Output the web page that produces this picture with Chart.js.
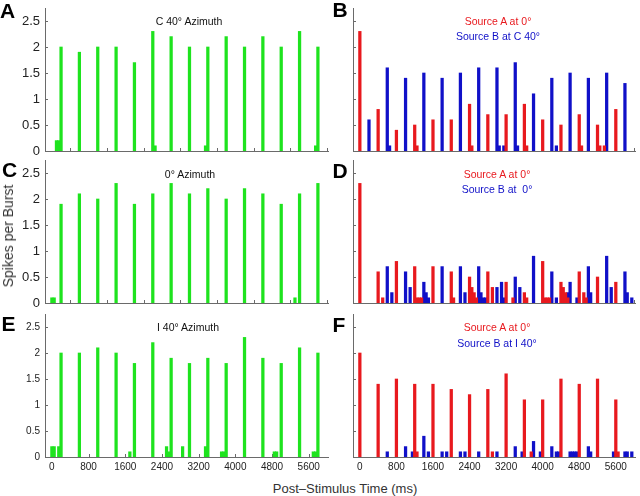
<!DOCTYPE html>
<html>
<head>
<meta charset="utf-8">
<script src="https://cdn.jsdelivr.net/npm/chart.js@4.4.1/dist/chart.umd.min.js"></script>
<style>
body{margin:0;background:#fff;width:640px;height:496px;position:relative;overflow:hidden;font-family:"Liberation Sans",Arial,sans-serif}
canvas{position:absolute}
.t{position:absolute;white-space:nowrap;transform:translate(-50%,-50%);font-size:10.5px;color:#111}
.L{font-weight:bold;font-size:21px;color:#000}
.red{color:#e8191e}
.blue{color:#1010c8}
</style>
</head>
<body>
<canvas id="cA" width="334" height="179" style="left:0;top:-6px"></canvas>
<canvas id="cB" width="332" height="179" style="left:308px;top:-6px"></canvas>
<canvas id="cC" width="334" height="179" style="left:0;top:146px"></canvas>
<canvas id="cD" width="332" height="179" style="left:308px;top:146px"></canvas>
<canvas id="cE" width="334" height="179" style="left:0;top:300px"></canvas>
<canvas id="cF" width="332" height="179" style="left:308px;top:300px"></canvas>

<div class="t L" style="left:7.5px;top:10.5px">A</div>
<div class="t L" style="left:340px;top:9.5px">B</div>
<div class="t L" style="left:9.5px;top:170px">C</div>
<div class="t L" style="left:340px;top:170.5px">D</div>
<div class="t L" style="left:8.5px;top:323.5px">E</div>
<div class="t L" style="left:339px;top:324.5px">F</div>

<div class="t" style="left:189px;top:21px">C 40° Azimuth</div>
<div class="t" style="left:190px;top:174px">0° Azimuth</div>
<div class="t" style="left:188px;top:327px">I 40° Azimuth</div>

<div class="t red" style="left:498px;top:21px">Source A at 0°</div>
<div class="t blue" style="left:498px;top:36px">Source B at C 40°</div>
<div class="t red" style="left:497px;top:174px">Source A at 0°</div>
<div class="t blue" style="left:497px;top:189px">Source B at &nbsp;0°</div>
<div class="t red" style="left:497px;top:327px">Source A at 0°</div>
<div class="t blue" style="left:497px;top:343px">Source B at I 40°</div>

<div class="t" style="left:8px;top:236px;font-size:14px;color:#333;transform:translate(-50%,-50%) rotate(-90deg)">Spikes per Burst</div>
<div class="t" style="left:345px;top:488px;font-size:13px;color:#333">Post–Stimulus Time (ms)</div>

<script>
// spikes per burst, 50 ms bins (bin time in ms)
const aTime = [100, 150, 200, 600, 1000, 1400, 1800, 2200, 2250, 2600, 3000, 3350, 3400, 3800, 4200, 4600, 5000, 5400, 5750, 5800];
const aVal  = [0.2, 0.2, 2.0, 1.9, 2.0, 2.0, 1.7, 2.3, 0.1, 2.2, 2.0, 0.1, 2.0, 2.2, 2.0, 2.2, 2.0, 2.3, 0.1, 2.0];

const bRedTime = [0, 400, 800, 1200, 1250, 1600, 2000, 2400, 2450, 2800, 3200, 3600, 3650, 4000, 4400, 4800, 4850, 5200, 5250, 5350, 5600];
const bRedVal  = [2.3, 0.8, 0.4, 0.5, 0.1, 0.6, 0.6, 0.9, 0.1, 0.7, 0.7, 0.9, 0.1, 0.6, 0.5, 0.7, 0.1, 0.5, 0.1, 0.1, 0.8];
const bBlueTime = [200, 600, 650, 1000, 1400, 1800, 2200, 2600, 3000, 3050, 3150, 3400, 3450, 3800, 4200, 4300, 4600, 5000, 5400, 5800];
const bBlueVal  = [0.6, 1.6, 0.1, 1.4, 1.5, 1.4, 1.5, 1.6, 1.6, 0.1, 0.1, 1.7, 0.1, 1.1, 1.4, 0.1, 1.5, 1.4, 1.5, 1.3];

const cTime = [0, 50, 200, 600, 1000, 1400, 1800, 2200, 2600, 3000, 3400, 3800, 4200, 4600, 5000, 5300, 5400, 5800];
const cVal  = [0.1, 0.1, 1.9, 2.1, 2.0, 2.3, 1.9, 2.1, 2.3, 2.1, 2.2, 2.0, 2.2, 2.1, 1.9, 0.1, 2.1, 2.3];

const dRedTime = [0, 400, 500, 800, 1200, 1250, 1300, 1350, 1600, 2000, 2050, 2400, 2450, 2500, 2550, 2800, 2900, 3200, 3350, 3600, 3650, 4000, 4050, 4100, 4150, 4400, 4450, 4500, 4550, 4800, 4900, 4950, 5200, 5600];
const dRedVal  = [2.3, 0.6, 0.1, 0.8, 0.7, 0.1, 0.1, 0.1, 0.7, 0.6, 0.1, 0.5, 0.3, 0.2, 0.1, 0.6, 0.3, 0.4, 0.1, 0.2, 0.1, 0.8, 0.1, 0.1, 0.1, 0.4, 0.3, 0.2, 0.1, 0.6, 0.2, 0.1, 0.5, 0.4];
const dBlueTime = [600, 700, 1000, 1100, 1400, 1450, 1500, 1800, 2200, 2300, 2600, 2650, 2700, 2750, 3000, 3100, 3150, 3400, 3500, 3800, 4200, 4300, 4550, 4600, 4750, 5000, 5050, 5400, 5500, 5800, 5850, 5950];
const dBlueVal  = [0.7, 0.2, 0.6, 0.3, 0.4, 0.2, 0.1, 0.7, 0.7, 0.2, 0.7, 0.2, 0.1, 0.1, 0.3, 0.4, 0.1, 0.5, 0.3, 0.9, 0.6, 0.1, 0.2, 0.4, 0.1, 0.7, 0.2, 0.9, 0.3, 0.6, 0.2, 0.1];

const eTime = [0, 50, 150, 200, 600, 1000, 1400, 1700, 1800, 2200, 2500, 2550, 2600, 2850, 3000, 3350, 3400, 3700, 3750, 3800, 4200, 4600, 4850, 4900, 5000, 5400, 5700, 5750, 5800];
const eVal  = [0.2, 0.2, 0.2, 2.0, 2.0, 2.1, 2.0, 0.1, 1.8, 2.2, 0.2, 0.1, 1.9, 0.2, 1.8, 0.2, 1.9, 0.1, 0.1, 1.8, 2.3, 1.9, 0.1, 0.1, 1.8, 2.1, 0.1, 0.1, 2.0];

const fRedTime = [0, 400, 800, 1200, 1250, 1600, 2000, 2400, 2800, 2900, 3200, 3600, 3750, 4000, 4400, 4800, 5200, 5600, 5650];
const fRedVal  = [2.0, 1.4, 1.5, 1.4, 0.1, 1.4, 1.3, 1.2, 1.3, 0.1, 1.6, 1.1, 0.1, 1.1, 1.5, 1.4, 1.5, 1.1, 0.1];
const fBlueTime = [600, 1000, 1150, 1400, 1500, 1800, 1900, 2200, 2300, 2600, 3000, 3400, 3550, 3800, 3950, 4200, 4300, 4350, 4600, 4650, 4700, 4750, 5000, 5050, 5550, 5800, 5850, 5950];
const fBlueVal  = [0.1, 0.2, 0.1, 0.4, 0.1, 0.1, 0.1, 0.1, 0.1, 0.1, 0.1, 0.2, 0.1, 0.3, 0.1, 0.2, 0.1, 0.1, 0.1, 0.1, 0.1, 0.1, 0.2, 0.1, 0.1, 0.1, 0.1, 0.1];

const yTicks = [0, 0.5, 1, 1.5, 2, 2.5];
const xTicksTop = [400, 1200, 2000, 2800, 3600, 4400, 5200, 6000];
const xTicksBottom = [0, 800, 1600, 2400, 3200, 4000, 4800, 5600];

const GREEN = '#1ee31e', RED = '#e8191e', BLUE = '#1010c8', AXIS = '#6a6a6a';

const pts = (t, v) => t.map((x, i) => ({x: x, y: v[i]}));

// inward tick marks, matlab style
const inTicks = {
  id: 'inTicks',
  beforeDatasetsDraw(chart, args, opts) {
    const {ctx, chartArea: a, scales: {x, y}} = chart;
    ctx.save();
    ctx.strokeStyle = AXIS;
    ctx.lineWidth = 1;
    ctx.beginPath();
    opts.x.forEach(v => {
      const px = Math.round(x.getPixelForValue(v)) + 0.5;
      ctx.moveTo(px, a.bottom); ctx.lineTo(px, a.bottom - 3);
    });
    yTicks.forEach(v => {
      const py = Math.round(y.getPixelForValue(v)) + 0.5;
      ctx.moveTo(a.left, py); ctx.lineTo(a.left + 3, py);
    });
    ctx.stroke();
    ctx.restore();
  }
};

function panel(id, sets, opt) {
  new Chart(document.getElementById(id), {
    type: 'bar',
    data: {
      datasets: sets.map(s => ({
        data: pts(s[0], s[1]),
        backgroundColor: s[2],
        borderWidth: 0,
        barThickness: 2.6,
        grouped: false
      }))
    },
    options: {
      responsive: false,
      animation: false,
      events: [],
      layout: {padding: {top: 14, right: opt.right, left: 0, bottom: 0}},
      plugins: {legend: {display: false}, tooltip: {enabled: false}, inTicks: {x: opt.xTicks}},
      scales: {
        x: {
          type: 'linear', min: -150, max: 6020, offset: false,
          grid: {display: false, drawTicks: false},
          border: {display: true, color: AXIS, width: 1},
          afterBuildTicks: s => { s.ticks = opt.xTicks.map(v => ({value: v})); },
          afterFit: s => { s.height = 22; },
          ticks: {display: opt.xLabels, padding: 4, color: '#222', font: {family: 'Liberation Sans', size: 10}, callback: v => String(v), maxRotation: 0, autoSkip: false}
        },
        y: {
          min: 0, max: 2.75,
          grid: {display: false, drawTicks: false},
          border: {display: true, color: AXIS, width: 1},
          afterBuildTicks: s => { s.ticks = yTicks.map(v => ({value: v})); },
          afterFit: s => { s.width = 45; },
          ticks: {display: opt.yLabels, padding: 5, color: '#222', font: {family: 'Liberation Sans', size: opt.yFont}, callback: v => String(v)}
        }
      }
    },
    plugins: [inTicks]
  });
}

panel('cA', [[aTime, aVal, GREEN]], {right: 6, xTicks: xTicksTop, xLabels: false, yLabels: true, yFont: 13});
panel('cC', [[cTime, cVal, GREEN]], {right: 6, xTicks: xTicksTop, xLabels: false, yLabels: true, yFont: 13});
panel('cE', [[eTime, eVal, GREEN]], {right: 6, xTicks: xTicksBottom, xLabels: true, yLabels: true, yFont: 10});
panel('cB', [[bRedTime, bRedVal, RED], [bBlueTime, bBlueVal, BLUE]], {right: 5, xTicks: xTicksTop, xLabels: false, yLabels: false, yFont: 10});
panel('cD', [[dRedTime, dRedVal, RED], [dBlueTime, dBlueVal, BLUE]], {right: 5, xTicks: xTicksTop, xLabels: false, yLabels: false, yFont: 10});
panel('cF', [[fRedTime, fRedVal, RED], [fBlueTime, fBlueVal, BLUE]], {right: 5, xTicks: xTicksBottom, xLabels: true, yLabels: false, yFont: 10});
</script>
</body>
</html>
